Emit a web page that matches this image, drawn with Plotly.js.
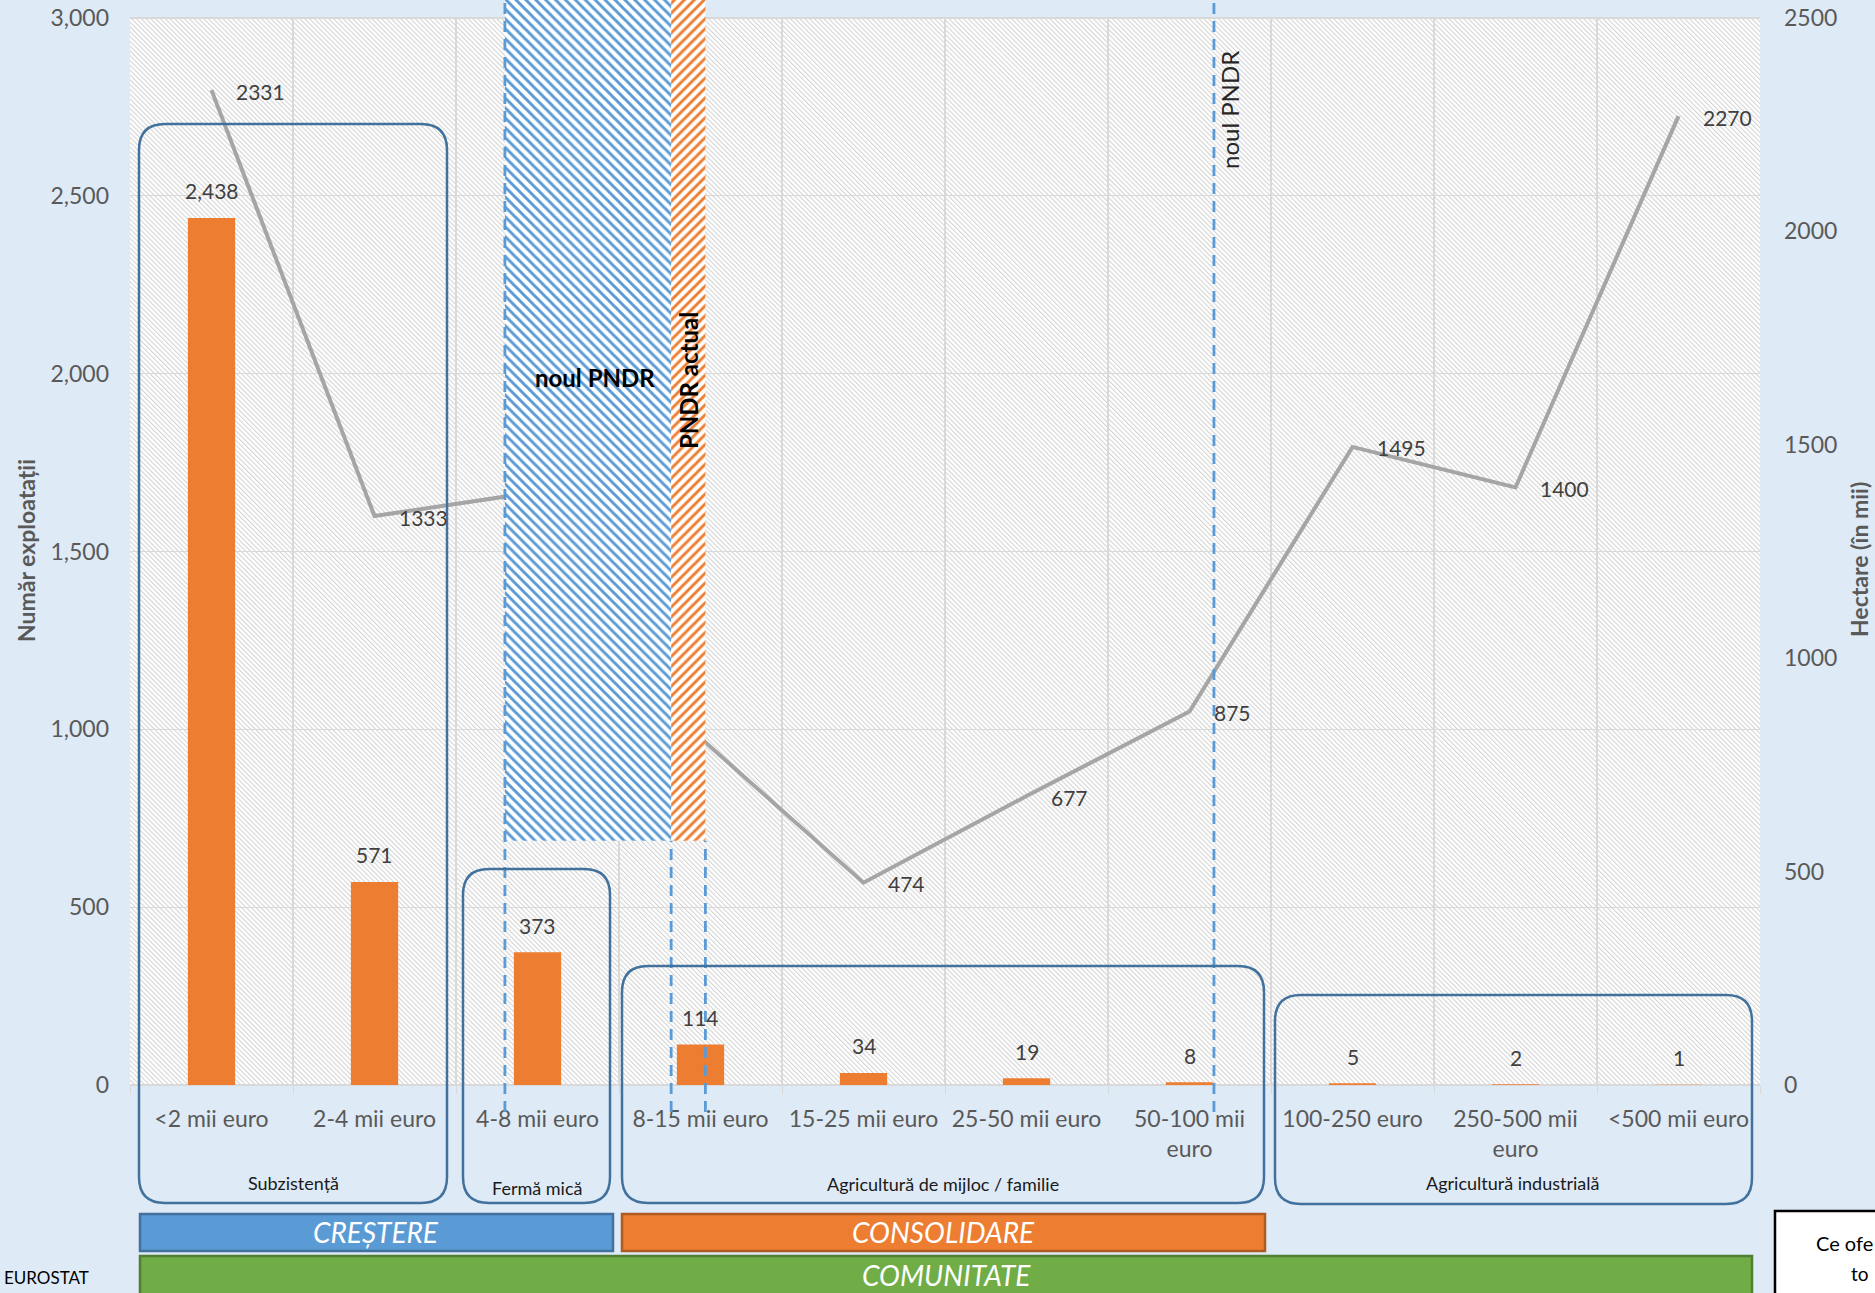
<!DOCTYPE html>
<html><head><meta charset="utf-8">
<script src="https://cdn.plot.ly/plotly-3.0.1.min.js"></script>
<style>html,body{margin:0;padding:0;background:#DEEAF6;}</style>
</head><body><div id="chart" style="width:1875px;height:1293px"></div>
<script>
// ---- data ----
const categories = ['&lt;2 mii euro','2-4 mii euro','4-8 mii euro','8-15 mii euro','15-25 mii euro','25-50 mii euro','50-100 mii<br>euro','100-250 euro','250-500 mii<br>euro','&lt;500 mii euro'];
const exploatatii = [2438, 571, 373, 114, 34, 19, 8, 5, 2, 1];           // left axis (bars)
const hectare = [2331, 1333, 1390, 813, 474, 677, 875, 1495, 1400, 2270]; // right axis (line), 3rd point hidden in original
const leftTicks = [0, 500, 1000, 1500, 2000, 2500, 3000];
const rightTicks = [0, 500, 1000, 1500, 2000, 2500];
// zones (category-index units) and base (left-axis units)
const zoneNames = ['noul PNDR', 'PNDR actual'];
const zoneStart = [1.8, 2.82];
const zoneEnd = [2.82, 3.03];
const zoneBase = [687, 687];
const markerLineX = 6.15; // second "noul PNDR" marker
const groupNames = ['Subzistență', 'Fermă mică', 'Agricultură de mijloc / familie', 'Agricultură industrială'];
const bandNames = ['CREȘTERE', 'CONSOLIDARE', 'COMUNITATE'];

// ---- geometry helpers (pixel -> paper) ----
const W = 1875, H = 1293, L = 130, R = 1760, T = 0, B = 1085, TOP3000 = 18;
const px = x => (x - L) / (R - L);
const py = y => (B - y) / (B - T);
const YL = 3000 * (B - T) / (B - TOP3000);
const YR = 2500 * (B - T) / (B - TOP3000);
const idx = categories.map((c, i) => i);

function rr(x0, y0, x1, y1, r) {
  const P = (x, y) => px(x).toFixed(5) + ',' + py(y).toFixed(5);
  return `M ${P(x0 + r, y0)} L ${P(x1 - r, y0)} Q ${P(x1, y0)} ${P(x1, y0 + r)} L ${P(x1, y1 - r)} Q ${P(x1, y1)} ${P(x1 - r, y1)} L ${P(x0 + r, y1)} Q ${P(x0, y1)} ${P(x0, y1 - r)} L ${P(x0, y0 + r)} Q ${P(x0, y0)} ${P(x0 + r, y0)} Z`;
}

// hatch background
const hatchSvg = `<svg xmlns='http://www.w3.org/2000/svg' width='${R - L}' height='${B - TOP3000}'><defs><pattern id='p' width='3.4' height='3.4' patternUnits='userSpaceOnUse' patternTransform='rotate(-45)'><rect width='3.4' height='3.4' fill='#ffffff'/><rect width='1.1' height='3.4' fill='#d4d4d4'/></pattern></defs><rect width='100%' height='100%' fill='url(#p)'/></svg>`;
const hatchUri = 'data:image/svg+xml;charset=utf-8,' + encodeURIComponent(hatchSvg);

const FONT = 'Lato, "Open Sans", "DejaVu Sans", sans-serif';

// ---- traces ----
const traces = [
  { type: 'bar', x: idx, y: exploatatii, xaxis: 'x', yaxis: 'y', width: 0.29,
    marker: { color: '#ED7D31', line: { width: 0 } }, hoverinfo: 'skip' },
  { type: 'scatter', mode: 'lines', x: idx, y: hectare, xaxis: 'x', yaxis: 'y2',
    line: { color: '#A5A5A5', width: 4 }, hoverinfo: 'skip' },
  { type: 'bar', xaxis: 'x', yaxis: 'y3',
    x: zoneStart.map((s, i) => (s + zoneEnd[i]) / 2),
    width: zoneStart.map((s, i) => zoneEnd[i] - s),
    base: zoneBase,
    y: zoneBase.map(b => YL - b),
    marker: { color: 'white', line: { width: 0 },
      pattern: { shape: ['\\', '/'], fgcolor: ['#5B9BD5', '#ED7D31'], bgcolor: 'white', size: 7, solidity: 0.42 } },
    hoverinfo: 'skip' }
];

// ---- shapes ----
const shapes = [];
// mask gridlines above the 3,000 line
shapes.push({ type: 'rect', xref: 'x', yref: 'y', x0: -0.7, x1: 9.7, y0: 3003, y1: YL + 20, layer: 'between', fillcolor: '#DEEAF6', line: { width: 0 } });
// dashed zone borders
const dash = { color: '#5B9BD5', width: 2.8, dash: '11px,7px' };
const zb = zoneBase[0] / YL;
shapes.push({ type: 'line', xref: 'x', yref: 'paper', x0: zoneStart[0], x1: zoneStart[0], y0: py(1112), y1: 1, line: dash, layer: 'above' });
shapes.push({ type: 'line', xref: 'x', yref: 'paper', x0: zoneEnd[0], x1: zoneEnd[0], y0: py(1112), y1: zb, line: dash, layer: 'above' });
shapes.push({ type: 'line', xref: 'x', yref: 'paper', x0: zoneEnd[1], x1: zoneEnd[1], y0: py(1112), y1: zb, line: dash, layer: 'above' });
shapes.push({ type: 'line', xref: 'x', yref: 'paper', x0: markerLineX, x1: markerLineX, y0: py(1112), y1: 1, line: dash, layer: 'above' });
// group boxes
const boxLine = { color: '#41719C', width: 2.5 };
[[139, 124, 447, 1203], [463, 869, 610, 1203], [622, 966, 1264, 1203], [1275, 995, 1752, 1204]].forEach(b => {
  shapes.push({ type: 'path', xref: 'paper', yref: 'paper', path: rr(b[0], b[1], b[2], b[3], 26), line: boxLine, fillcolor: 'rgba(0,0,0,0)', layer: 'above' });
});
// bands
const bands = [[140, 1214, 613, 1251, '#5B9BD5', '#41719C'], [622, 1214, 1265, 1251, '#ED7D31', '#AE5A21'], [140, 1256, 1752, 1300, '#70AD47', '#507E32']];
bands.forEach(b => shapes.push({ type: 'rect', xref: 'paper', yref: 'paper', x0: px(b[0]), x1: px(b[2]), y0: py(b[3]), y1: py(b[1]), fillcolor: b[4], line: { color: b[5], width: 2.5 }, layer: 'above' }));
// right-bottom box
shapes.push({ type: 'rect', xref: 'paper', yref: 'paper', x0: px(1775), x1: px(1900), y0: py(1310), y1: py(1211), fillcolor: 'white', line: { color: '#000', width: 2.5 }, layer: 'above' });

// ---- annotations ----
const ann = [];
const A = o => Object.assign({ showarrow: false, xanchor: 'center', yanchor: 'middle' }, o);
const P = (x, y) => ({ xref: 'paper', yref: 'paper', x: px(x), y: py(y) });
const dataFont = { family: FONT, size: 21, color: '#404040' };
exploatatii.forEach((v, i) => ann.push(A({ xref: 'x', yref: 'y', x: i, y: v, yshift: 27, text: v.toLocaleString('en-US'), font: dataFont })));
const inZone = i => zoneStart.some((s, k) => i >= s && i <= zoneEnd[k]);
hectare.forEach((v, i) => { if (!inZone(i)) ann.push(A({ xref: 'x', yref: 'y2', x: i, y: v, xanchor: 'left', xshift: 22, yshift: -1, text: String(v), font: dataFont })); });
// axis titles
ann.push(A(Object.assign(P(26, 550), { text: '<b>Număr exploatații</b>', textangle: -90, font: { family: FONT, size: 23, color: '#595959' } })));
ann.push(A(Object.assign(P(1859, 560), { text: '<b>Hectare (în mii)</b>', textangle: -90, font: { family: FONT, size: 23, color: '#595959' } })));
// zone texts
ann.push(A(Object.assign(P(595, 377), { text: '<b>' + zoneNames[0] + '</b>', font: { family: FONT, size: 24, color: '#000' } })));
ann.push(A(Object.assign(P(689, 381), { text: '<b>' + zoneNames[1] + '</b>', textangle: -90, font: { family: FONT, size: 24, color: '#000' } })));
ann.push(A(Object.assign(P(1229, 110), { text: zoneNames[0], textangle: -90, font: { family: FONT, size: 24, color: '#262626' } })));
// group labels
[[293, 1183], [537, 1188], [943, 1184], [1513, 1183]].forEach((p, i) => ann.push(A(Object.assign(P(p[0], p[1]), { text: groupNames[i], font: { family: FONT, size: 18, color: '#1a1a1a' } }))));
// band labels
[[376, 1232], [943, 1232], [946, 1275]].forEach((p, i) => ann.push(A(Object.assign(P(p[0], p[1]), { text: bandNames[i], font: { family: FONT, size: 28, color: '#ffffff', style: 'italic' } }))));
// source & side box
ann.push(A(Object.assign(P(2, 1290), { xanchor: 'left', yanchor: 'bottom', text: 'EUROSTAT', font: { family: FONT, size: 17, color: '#000' } })));
ann.push(A(Object.assign(P(1814, 1243), { xanchor: 'left', text: 'Ce ofe', font: { family: FONT, size: 20, color: '#000' } })));
ann.push(A(Object.assign(P(1849, 1273), { xanchor: 'left', text: 'to', font: { family: FONT, size: 19, color: '#000' } })));

const tickFont = { family: FONT, size: 23, color: '#595959' };
const layout = {
  width: W, height: H,
  paper_bgcolor: '#DEEAF6', plot_bgcolor: 'rgba(0,0,0,0)',
  margin: { l: L, r: W - R, t: T, b: H - B, pad: 0 },
  showlegend: false, barmode: 'overlay',
  font: { family: FONT, color: '#595959' },
  xaxis: { range: [-0.5, 9.5], tickmode: 'array', tickvals: idx, ticktext: categories, showgrid: false, zeroline: false,
    ticks: '', tickfont: tickFont, ticklabelstandoff: 18, fixedrange: true,
    minor: { tick0: -0.5, dtick: 1, ticks: 'outside', ticklen: 8, tickcolor: '#D9D9D9', showgrid: true, gridcolor: '#D9D9D9', gridwidth: 1.2 } },
  yaxis: { range: [0, YL], tickmode: 'array', tickvals: leftTicks, tickformat: ',', gridcolor: '#D9D9D9', gridwidth: 1.2, zeroline: true, zerolinecolor: '#D9D9D9', zerolinewidth: 1.2,
    showline: false, tickfont: tickFont, ticks: '', ticklabelstandoff: 20, fixedrange: true },
  yaxis2: { overlaying: 'y', side: 'right', range: [0, YR], tickmode: 'array', tickvals: rightTicks, tickformat: 'd', showgrid: false, zeroline: false,
    tickfont: tickFont, ticks: '', ticklabelstandoff: 23, fixedrange: true },
  yaxis3: { overlaying: 'y', range: [0, YL], visible: false, fixedrange: true },
  images: [{ source: hatchUri, xref: 'x', yref: 'y', x: -0.5, y: 3000, sizex: 10, sizey: 3000, xanchor: 'left', yanchor: 'top', sizing: 'stretch', layer: 'below' }],
  shapes: shapes,
  annotations: ann
};
Plotly.newPlot('chart', traces, layout, { staticPlot: true, displayModeBar: false });
</script></body></html>
